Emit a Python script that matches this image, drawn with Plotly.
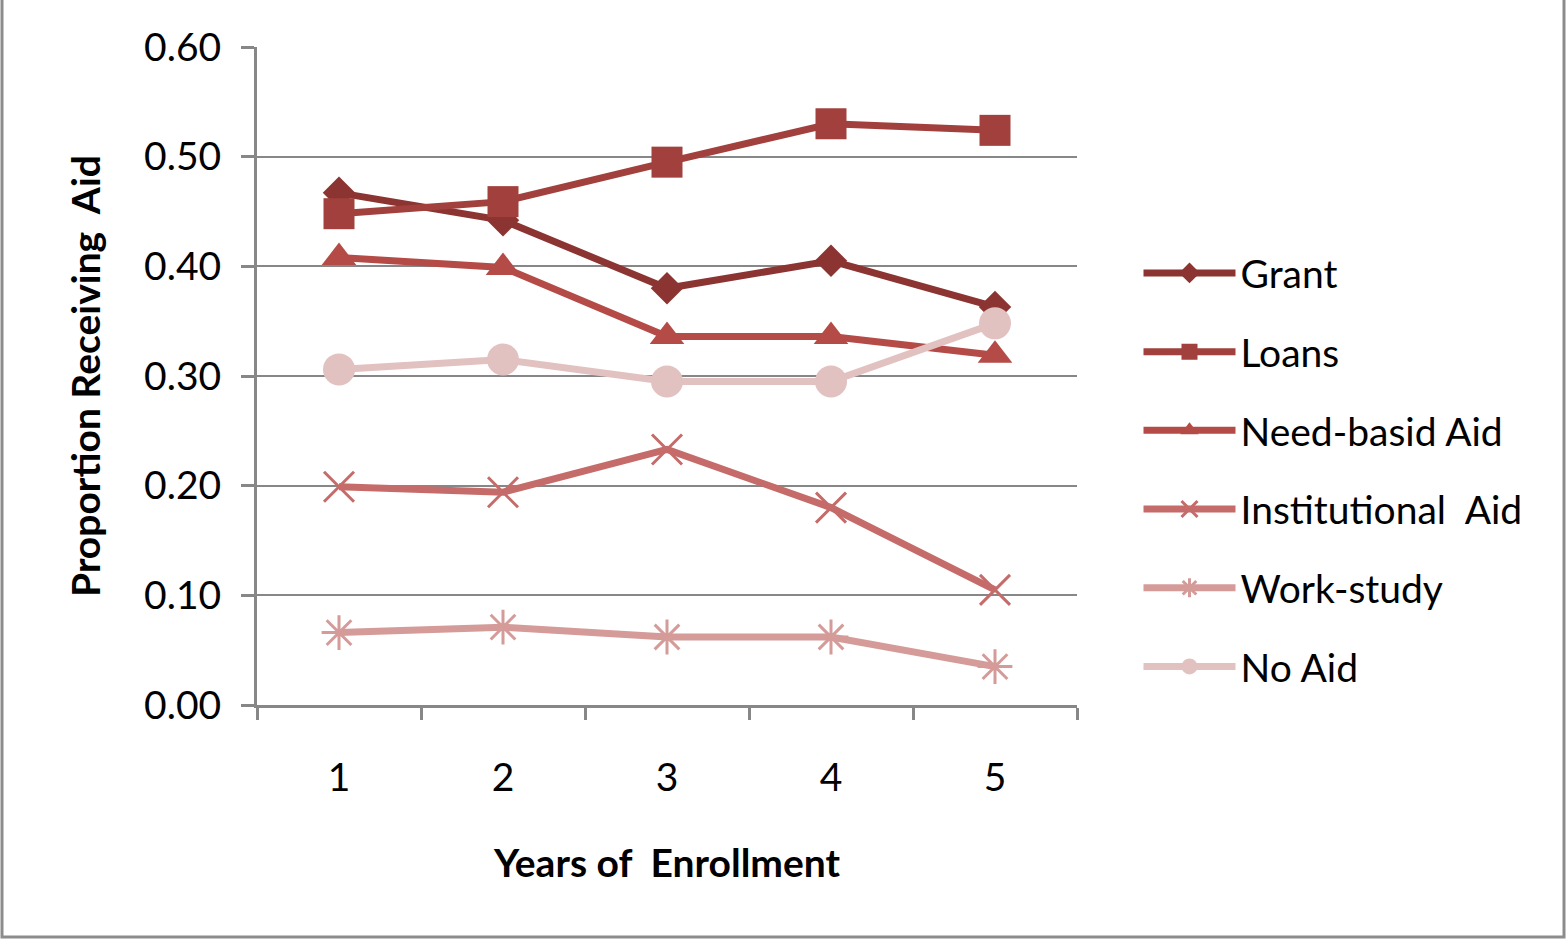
import plotly.graph_objects as go

# Years of enrollment (category axis)
years = ["1", "2", "3", "4", "5"]

# Proportion of students receiving each type of aid, by year
grant = [0.467, 0.442, 0.380, 0.405, 0.363]
loans = [0.448, 0.459, 0.495, 0.530, 0.524]
need_based = [0.408, 0.399, 0.336, 0.336, 0.319]
institutional = [0.199, 0.194, 0.233, 0.180, 0.105]
work_study = [0.066, 0.071, 0.062, 0.062, 0.035]
no_aid = [0.306, 0.315, 0.295, 0.295, 0.348]

series_names = ["Grant", "Loans", "Need-basid Aid", "Institutional\u00a0 Aid", "Work-study", "No Aid"]
series_values = [grant, loans, need_based, institutional, work_study, no_aid]
colors = ["#8B3431", "#A1403D", "#B44B47", "#C56C6A", "#D49B99", "#E2C1C1"]
symbols = ["diamond", "square", "triangle-up", "x-thin-open", "asterisk-open", "circle"]
sizes = [25, 31, 30, 30, 29, 32]

FONT = "Lato"
FS = 39
W, H = 1566, 939
L, R, T, B = 257, 489, 47, 234

fig = go.Figure()
for name, vals, col, sym, sz in zip(series_names, series_values, colors, symbols, sizes):
    open_sym = sym.endswith("open")
    fig.add_trace(go.Scatter(
        x=years, y=vals, name=name, mode="lines+markers",
        legendgroup=name,
        line=dict(color=col, width=7),
        marker=dict(symbol=sym, size=sz, color=col,
                    line=dict(color=col, width=3 if open_sym else 0)),
    ))

axis_gray = "#878787"
fig.update_layout(
    width=W, height=H,
    margin=dict(l=L, r=R, t=T, b=B),
    paper_bgcolor="white", plot_bgcolor="white",
    font=dict(family=FONT, color="black", size=FS),
    showlegend=True,
    legend=dict(
        x=1.075, xanchor="left", y=0.357, yanchor="middle",
        font=dict(family=FONT, size=FS, color="black"),
        tracegroupgap=25, itemwidth=92,
        bgcolor="rgba(0,0,0,0)",
    ),
    xaxis=dict(
        type="category", tickson="boundaries", range=[-0.5, 4.5],
        showline=True, linecolor=axis_gray, linewidth=3,
        ticks="outside", ticklen=12, tickwidth=3, tickcolor=axis_gray,
        showgrid=False, zeroline=False,
        tickfont=dict(family=FONT, size=FS),
        ticklabelstandoff=36,
        title=dict(text="<b>Years of\u00a0 Enrollment</b>", standoff=52,
                   font=dict(family=FONT, size=FS)),
    ),
    yaxis=dict(
        range=[0, 0.6], dtick=0.1, tickformat=".2f",
        showline=True, linecolor=axis_gray, linewidth=3,
        ticks="outside", ticklen=13, tickwidth=3, tickcolor=axis_gray,
        showgrid=True, gridcolor=axis_gray, gridwidth=2,
        zeroline=False,
        tickfont=dict(family=FONT, size=FS),
        ticklabelstandoff=12,
        title=dict(text="<b>Proportion Receiving\u00a0 Aid</b>", standoff=32,
                   font=dict(family=FONT, size=FS)),
    ),
)

# Thin grey frame around the whole chart area
pw, ph = W - L - R, H - T - B
fig.add_shape(
    type="rect", xref="paper", yref="paper",
    x0=(-L + 2) / pw, x1=(W - L - 2) / pw,
    y0=(-B + 2) / ph, y1=(H - T - 2) / ph,
    line=dict(color="#8C8C8C", width=3), fillcolor="rgba(0,0,0,0)",
    layer="below",
)

fig.write_html("out.html")
